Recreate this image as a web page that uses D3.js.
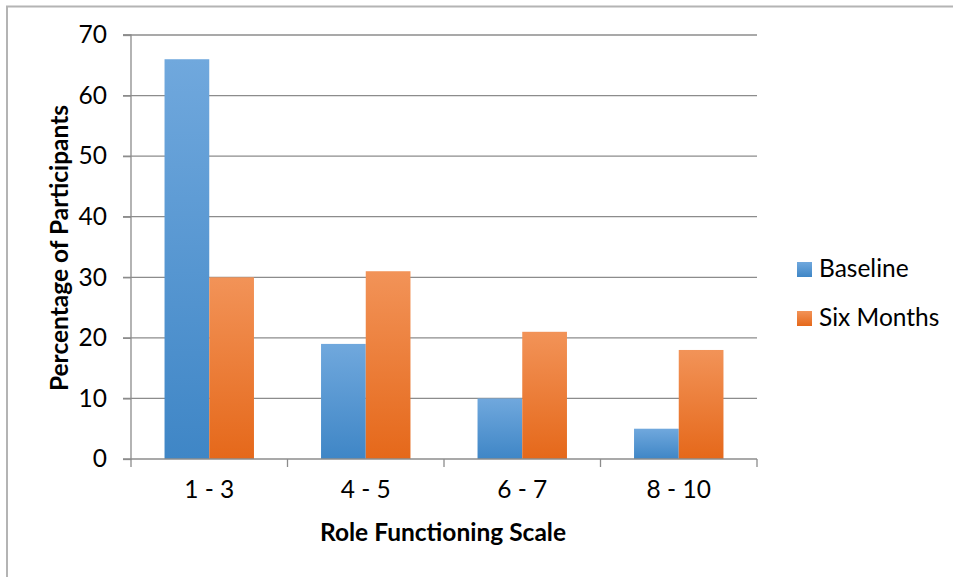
<!DOCTYPE html>
<html><head><meta charset="utf-8">
<script src="https://cdn.jsdelivr.net/npm/d3@7"></script>
<style>body{margin:0;background:#fff}svg{display:block}text{font-family:Lato,"Open Sans",sans-serif;fill:#000}</style>
</head><body>
<svg id="c" width="953" height="577"></svg>
<script>
const categories = ["1 - 3", "4 - 5", "6 - 7", "8 - 10"];
const seriesNames = ["Baseline", "Six Months"];
const baseline = [66, 19, 10, 5];
const sixMonths = [30, 31, 21, 18];
const yTicks = [0, 10, 20, 30, 40, 50, 60, 70];
const xTitle = "Role Functioning Scale";
const yTitle = "Percentage of Participants";

const svg = d3.select("#c");
const pLeft = 131, pRight = 757, pTop = 35, pBottom = 459;
const fs = 24.5;

// border
svg.append("path").attr("d", "M7,577 V6.5 H953").attr("fill", "none").attr("stroke", "#b4b4b4").attr("stroke-width", 2);

const defs = svg.append("defs");
const grads = [["gB", "#70a8dd", "#3f86c6"], ["gO", "#f29358", "#e5681a"]];
grads.forEach(([id, c1, c2]) => {
  const g = defs.append("linearGradient").attr("id", id).attr("x1", 0).attr("y1", 0).attr("x2", 0).attr("y2", 1);
  g.append("stop").attr("offset", 0).attr("stop-color", c1);
  g.append("stop").attr("offset", 1).attr("stop-color", c2);
});

const x = d3.scaleBand().domain(categories).range([pLeft, pRight]).padding(0);
const xs = d3.scaleBand().domain(seriesNames).range([0, x.bandwidth()]).paddingInner(0).paddingOuter(0.75);
const y = d3.scaleLinear().domain([0, 70]).range([pBottom, pTop]);

// gridlines
svg.append("g").selectAll("line").data(yTicks.filter(d => d > 0)).join("line")
  .attr("x1", pLeft - 8).attr("x2", pRight).attr("y1", d => y(d)).attr("y2", d => y(d))
  .attr("stroke", "#8c8c8c").attr("stroke-width", 1.3);

// y axis
const ya = svg.append("g").attr("transform", `translate(${pLeft},0)`)
  .call(d3.axisLeft(y).tickValues(yTicks).tickSize(8).tickPadding(16));
ya.select(".domain").attr("stroke", "#8c8c8c").attr("stroke-width", 1.3).attr("d", `M-8,${pTop}H0V${pBottom}H-8`);
ya.selectAll(".tick line").attr("stroke", "#8c8c8c").attr("stroke-width", 1.3);
ya.selectAll(".tick text").attr("font-size", fs).attr("font-family", "Lato,sans-serif");

// bars
const data = [baseline, sixMonths];
seriesNames.forEach((s, si) => {
  svg.append("g").selectAll("rect").data(categories).join("rect")
    .attr("x", c => x(c) + xs(s)).attr("width", xs.bandwidth())
    .attr("y", (c, i) => y(data[si][i])).attr("height", (c, i) => y(0) - y(data[si][i]))
    .attr("fill", `url(#${grads[si][0]})`);
});

// x axis
const xa = svg.append("g").attr("transform", `translate(0,${pBottom})`)
  .call(d3.axisBottom(x).tickSize(0).tickPadding(22));
xa.select(".domain").remove();
svg.append("line").attr("x1", pLeft).attr("x2", pRight).attr("y1", pBottom).attr("y2", pBottom).attr("stroke", "#8c8c8c").attr("stroke-width", 1.3);
svg.append("g").selectAll("line").data(d3.range(categories.length + 1)).join("line")
  .attr("x1", i => pLeft + i * x.step()).attr("x2", i => pLeft + i * x.step())
  .attr("y1", pBottom).attr("y2", pBottom + 8).attr("stroke", "#8c8c8c").attr("stroke-width", 1.3);
xa.selectAll(".tick text").attr("font-size", fs).attr("font-family", "Lato,sans-serif");

// titles
svg.append("text").attr("x", (pLeft + pRight) / 2 - 1).attr("y", 541).attr("text-anchor", "middle")
  .attr("font-size", fs).attr("font-weight", "bold").text(xTitle);
svg.append("text").attr("transform", `translate(68,${(pTop + pBottom) / 2 + 1}) rotate(-90)`).attr("text-anchor", "middle")
  .attr("font-size", fs).attr("font-weight", "bold").text(yTitle);

// legend
const lg = svg.append("g");
seriesNames.forEach((s, i) => {
  const yy = 269 + i * 49;
  lg.append("rect").attr("x", 797).attr("y", yy - 7).attr("width", 15).attr("height", 15).attr("fill", `url(#${grads[i][0]})`);
  lg.append("text").attr("x", 819).attr("y", yy + 8).attr("font-size", fs).text(s);
});
</script>
</body></html>
